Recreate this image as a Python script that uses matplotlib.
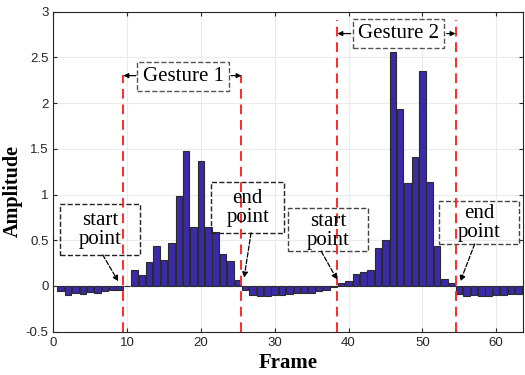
import matplotlib
matplotlib.use('Agg')
import matplotlib.pyplot as plt
from matplotlib.patches import Rectangle
import numpy as np

plt.rcParams['font.family'] = 'Liberation Sans'

# amplitude per frame (frames 1..63)
amp = [-0.06, -0.10, -0.08, -0.09, -0.07, -0.08, -0.05, -0.04, -0.04, 0.0,
       0.18, 0.12, 0.26, 0.44, 0.28, 0.47, 0.98, 1.48, 0.64, 1.37,
       0.64, 0.59, 0.35, 0.27, 0.07, -0.04, -0.10, -0.11, -0.11, -0.10,
       -0.10, -0.09, -0.08, -0.08, -0.08, -0.06, -0.04, -0.01, 0.03, 0.05,
       0.13, 0.15, 0.18, 0.41, 0.50, 2.56, 1.93, 1.13, 1.41, 2.35,
       1.14, 0.44, 0.08, 0.03, -0.09, -0.11, -0.10, -0.11, -0.11, -0.10,
       -0.10, -0.09, -0.09]
frames = np.arange(1, len(amp) + 1)

# gesture boundaries
g1 = [9.5, 25.5]
g2 = [38.5, 54.5]

xticks = [0, 10, 20, 30, 40, 50, 60]
yticks = [-0.5, 0, 0.5, 1, 1.5, 2, 2.5, 3]
ylabels = ['-0.5', '0', '0.5', '1', '1.5', '2', '2.5', '3']

# callout boxes: (text, x0, x1, y0, y1, arrow start, arrow tip, edge colour)
notes = [
    ('start\npoint', 0.9, 11.8, 0.34, 0.90, (6.7, 0.34), (8.8, 0.05), '#222222'),
    ('end\npoint', 21.4, 31.3, 0.58, 1.14, (26.8, 0.58), (25.85, 0.09), '#222222'),
    ('start\npoint', 31.8, 42.7, 0.38, 0.85, (36.3, 0.38), (38.45, 0.07), '#444444'),
    ('end\npoint', 52.3, 63.1, 0.46, 0.93, (57.1, 0.46), (55.15, 0.05), '#444444'),
]

fig = plt.figure(figsize=(5.25, 3.75), dpi=100)
ax = fig.add_axes([0.1015, 0.1155, 0.8955, 0.8535])

ax.bar(frames, amp, width=0.88, color='#3B2AA8', edgecolor='#2b2b2b', linewidth=0.8, zorder=3)

ax.set_xlim(0, 63.7)
ax.set_ylim(-0.5, 3)
ax.set_xticks(xticks)
ax.set_yticks(yticks)
ax.set_yticklabels(ylabels)
ax.grid(True, color='#ebebeb', linewidth=0.8, zorder=0)
ax.tick_params(direction='in', top=True, right=True, labelsize=9.5, colors='#262626',
               length=3, width=0.8)
for s in ax.spines.values():
    s.set_color('#262626')
    s.set_linewidth(0.8)

ax.set_xlabel('Frame', family='Liberation Serif', fontweight='bold', fontsize=15, labelpad=3)
ax.set_ylabel('Amplitude', family='Liberation Serif', fontweight='bold', fontsize=14.5)
ax.yaxis.set_label_coords(-0.064, 0.44)

# red boundary lines
for x in g1:
    ax.plot([x, x], [-0.5, 2.31], color='#ff2a2a', linestyle=(0, (5, 3)), linewidth=1.4, zorder=5)
for x in g2:
    ax.plot([x, x], [-0.5, 2.91], color='#ff2a2a', linestyle=(0, (5, 3)), linewidth=1.4, zorder=5)

serif = dict(family='Liberation Serif', fontsize=15)
arr = dict(arrowstyle='-|>', color='black', ls='--', lw=0.9, mutation_scale=8, shrinkA=0, shrinkB=0)

for txt, x0, x1, y0, y1, a0, a1, ec in notes:
    ax.add_patch(Rectangle((x0, y0), x1 - x0, y1 - y0, fill=False, ec=ec, ls='--', lw=1.0, zorder=4))
    ax.text((x0 + x1) / 2, (y0 + y1) / 2 - 0.01, txt, ha='center', va='center',
            linespacing=1.0, zorder=6, **serif)
    ax.annotate('', xy=a1, xytext=a0, arrowprops=arr, zorder=6)

gbox = dict(boxstyle='square,pad=0.25', fc='white', ec='#555555', ls='--', lw=1.0)
garr = dict(arrowstyle='-|>', color='black', lw=0.9, mutation_scale=7, shrinkA=0, shrinkB=0)
ax.text(17.6, 2.29, 'Gesture 1', ha='center', va='center', bbox=gbox, zorder=6, **serif)
ax.annotate('', xy=(g1[0], 2.3), xytext=(11.2, 2.3), arrowprops=garr, zorder=6)
ax.annotate('', xy=(g1[1], 2.3), xytext=(24.1, 2.3), arrowprops=garr, zorder=6)
ax.text(46.8, 2.76, 'Gesture 2', ha='center', va='center', bbox=gbox, zorder=6, **serif)
ax.annotate('', xy=(g2[0], 2.76), xytext=(40.3, 2.76), arrowprops=garr, zorder=6)
ax.annotate('', xy=(g2[1], 2.76), xytext=(53.3, 2.76), arrowprops=garr, zorder=6)

fig.savefig('out.png', dpi=100)
